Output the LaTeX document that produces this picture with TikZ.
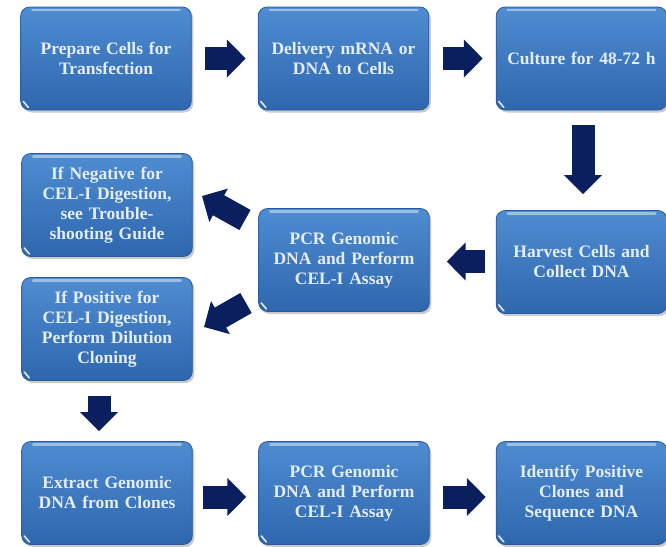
\documentclass[tikz,border=0pt]{standalone}
\usepackage{fontspec}
\setmainfont{Liberation Serif}
\usetikzlibrary{arrows.meta,shadows,calc}
\definecolor{boxtop}{HTML}{4F8CD2}
\definecolor{boxbot}{HTML}{2E67AE}
\definecolor{boxedge}{HTML}{285A9C}
\definecolor{navy}{HTML}{0B1F5E}
\definecolor{boxtext}{HTML}{E4EDF8}
\tikzset{
  stepbox/.style={rounded corners=9pt, top color=boxtop, bottom color=boxbot,
    draw=boxedge, line width=0.8pt, minimum width=168pt, minimum height=103pt,
    text width=164pt, align=center, text=boxtext,
    font=\bfseries\fontsize{17.5}{20}\selectfont,
    drop shadow={shadow xshift=2pt, shadow yshift=-2.5pt, opacity=0.35, fill=black!60}},
  blockarrow/.style={draw=navy, line width=23pt,
    -{Triangle[length=19pt 0 0, width=37pt 0 0, fill=navy]}},
}
\begin{document}
\begin{tikzpicture}[x=1pt,y=-1pt]
\useasboundingbox (0,0) rectangle (666,546);
% boxes
\node[stepbox] (A) at (106,58.5) {Prepare Cells for\\Transfection};
\node[stepbox] (B) at (343.5,58.5) {Delivery mRNA or\\DNA to Cells};
\node[stepbox] (C) at (581.5,58.5) {Culture for 48-72 h};
\node[stepbox] (H) at (581.5,262) {Harvest Cells and\\Collect DNA};
\node[stepbox] (P1) at (344,260) {PCR Genomic\\DNA and Perform\\CEL-I Assay};
\node[stepbox] (N) at (107,205) {If Negative for\\CEL-I Digestion,\\see Trouble-\\shooting Guide};
\node[stepbox] (Q) at (107,329) {If Positive for\\CEL-I Digestion,\\Perform Dilution\\Cloning};
\node[stepbox] (E) at (107,493) {Extract Genomic\\DNA from Clones};
\node[stepbox] (P2) at (344,493) {PCR Genomic\\DNA and Perform\\CEL-I Assay};
\node[stepbox] (I) at (581.5,493) {Identify Positive\\Clones and\\Sequence DNA};
% gloss highlights
\foreach \n in {A,B,C,H,P1,N,Q,E,P2,I}{
  \draw[white, opacity=0.45, line width=2.5pt, line cap=round]
    ($(\n.north west)+(12,3.5)$) -- ($(\n.north east)+(-12,3.5)$);
  \draw[white, opacity=0.85, line width=1.6pt, line cap=round]
    ($(\n.south west)+(3,-9)$) -- ($(\n.south west)+(8,-3)$);
}
% connector end points
\coordinate (d1s) at (245,220);
\coordinate (d1e) at (202,196);
\coordinate (d2s) at (246,303);
\coordinate (d2e) at (204,327);
% arrows
\draw[blockarrow, shorten <=13pt, shorten >=12pt] (A) -- (B);
\draw[blockarrow, shorten <=14pt, shorten >=13pt] (B) -- (C);
\draw[blockarrow, shorten <=15pt, shorten >=16pt] ($(C.south)+(1.5,0)$) -- ($(H.north)+(1.5,0)$);
\draw[blockarrow, shorten <=11pt, shorten >=17pt] ($(H.west)+(0,-0.5)$) -- ($(P1.east)+(0,1.5)$);
\draw[blockarrow] (d1s) -- (d1e);
\draw[blockarrow] (d2s) -- (d2e);
\draw[blockarrow, shorten <=15pt, shorten >=10pt] ($(Q.south)+(-8,0)$) -- ($(E.north)+(-8,0)$);
\draw[blockarrow, shorten <=10pt, shorten >=12pt] ($(E.east)+(0,4)$) -- ($(P2.west)+(0,4)$);
\draw[blockarrow, shorten <=13pt, shorten >=10pt] ($(P2.east)+(0,4)$) -- ($(I.west)+(0,4)$);
\end{tikzpicture}
\end{document}
